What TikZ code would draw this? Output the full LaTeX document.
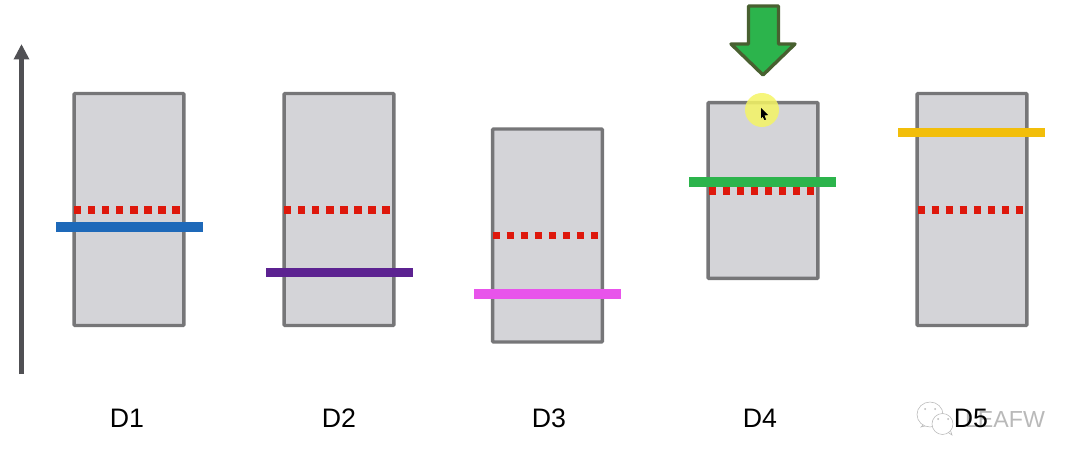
\documentclass[tikz,border=0pt]{standalone}
\usepackage{fontspec}
\setmainfont{Liberation Sans}
\usetikzlibrary{positioning,calc}
\usetikzlibrary{arrows.meta}
\definecolor{BoxGray}{RGB}{212,212,216}
\definecolor{EdgeGray}{RGB}{118,118,120}
\definecolor{AxisGray}{RGB}{80,80,84}
\definecolor{DashRed}{RGB}{222,24,12}
\definecolor{BarBlue}{RGB}{30,105,185}
\definecolor{BarPurple}{RGB}{92,34,145}
\definecolor{BarPink}{RGB}{232,84,235}
\definecolor{BarGreen}{RGB}{44,180,76}
\definecolor{BarYellow}{RGB}{242,190,10}
\definecolor{PushEdge}{RGB}{72,96,48}
\definecolor{HaloYellow}{RGB}{244,244,100}
\definecolor{MarkGray}{RGB}{185,185,185}
\tikzset{
  disk/.style={draw=EdgeGray,fill=BoxGray,line width=2.4pt,rounded corners=0.6pt,minimum width=78pt,inner sep=0pt},
  level/.style={line width=6.8pt},
  mean/.style={draw=DashRed,line width=5.4pt,dash pattern=on 5.2pt off 4.8pt},
  lab/.style={font=\fontsize{19}{22}\selectfont,text=black,inner sep=0pt},
  bubble/.style={draw=MarkGray,line width=.4pt,fill=white},
}
\begin{document}
\begin{tikzpicture}[x=0.025cm,y=-0.025cm]
\useasboundingbox (0,0) rectangle (1080,466);
% axis
\coordinate (axisa) at (21.5,374);
\coordinate (axisb) at (21.5,44);
\draw[AxisGray,line width=3.5pt,-{Triangle[length=11pt,width=10.5pt]}] (axisa)--(axisb);
% boxes
\node[disk,minimum height=165pt] (d1) at (129,209.5) {};
\node[disk,minimum height=165pt] (d2) at (339,209.5) {};
\node[disk,minimum height=151.5pt] (d3) at (547.5,235.5) {};
\node[disk,minimum height=125pt] (d4) at (763,190.5) {};
\node[disk,minimum height=165pt] (d5) at (972,209.5) {};
% dashes
\draw[mean] (74,210)--(181,210);
\draw[mean] (284,210)--(391,210);
\draw[mean] (492.5,235.5)--(600,235.5);
\draw[mean] (708.5,191)--(816,191);
\draw[mean] (917.5,210)--(1025,210);
% bars
\draw[level,BarBlue] (56,227)--(203,227);
\draw[level,BarPurple] (266,272.5)--(413,272.5);
\draw[level,BarPink] (474,294)--(621,294);
\draw[level,BarGreen] (689,182)--(836,182);
\draw[level,BarYellow] (898,132.5)--(1045,132.5);
% push arrow and pointer
\draw[draw=PushEdge,fill=BarGreen,line width=2.4pt,line join=round] (748.5,6)--(778.5,6)--(778.5,44)--(795,44)--(763,75)--(731,44)--(748.5,44)--cycle;
\fill[HaloYellow,opacity=.85] (762,110) circle (17);
\fill[black] (761,108)--(768,115)--(764.5,115.5)--(766,119.5)--(764.5,120)--(762.5,116.5)--(761,118.5)--cycle;
% watermark
\draw[bubble] (921,427)--(925,423)--(929,425)--cycle;
\draw[bubble] (930,414.5) ellipse (13 and 12.5);
\draw[bubble] (952,435)--(946,431)--(950,429)--cycle;
\draw[bubble] (942.5,424) ellipse (10.5 and 10.5);
\fill[MarkGray] (925,409) circle (1) (935,409) circle (1) (938,419) circle (1) (948,419) circle (1);
\node[font=\fontsize{16.5}{20}\selectfont,text=MarkGray,inner sep=0pt] (mark) at (1005,420) {LEAFW};
% labels
\node[lab] (l1) at (127,418) {D1};
\node[lab] (l2) at (339,418) {D2};
\node[lab] (l3) at (549,418) {D3};
\node[lab] (l4) at (760,418) {D4};
\node[lab] (l5) at (971,418) {D5};
\end{tikzpicture}
\end{document}
